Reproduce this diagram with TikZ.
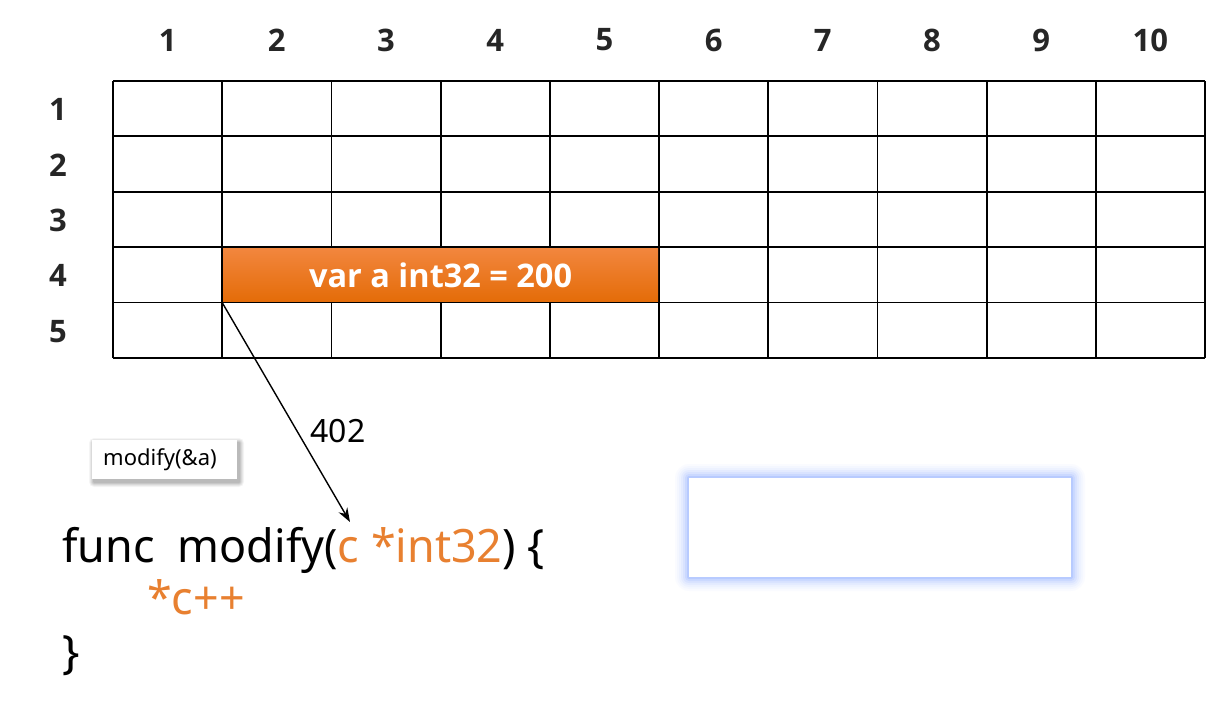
\documentclass[tikz,border=0pt]{standalone}
\usepackage{fontspec}
\usepackage{graphicx}
\setmainfont{Noto Sans}
\newfontfamily\boldos{Open Sans}
\usetikzlibrary{arrows.meta}
\definecolor{codeor}{RGB}{232,128,48}
\definecolor{boxtop}{RGB}{242,134,62}
\definecolor{boxbot}{RGB}{228,108,8}
\definecolor{glow}{RGB}{110,150,255}
\tikzset{
  gridline/.style={line width=1.8pt, black},
  lbl/.style={font=\fontsize{31}{36}\selectfont\boldos\bfseries, text=black!85, inner sep=0pt},
  codetxt/.style={font=\fontsize{46}{54}\selectfont, inner sep=0pt, anchor=base west},
  arrowline/.style={line width=1.4pt, -{Stealth[length=14pt,width=10pt]}},
}
\begin{document}
\begin{tikzpicture}[x=1pt,y=-1pt]
\useasboundingbox (0,0) rectangle (1218,708);
\fill[white] (0,0) rectangle (1218,708);
% column headers
\foreach \i in {1,...,10} {
  \node[lbl] (col\i) at ({113+109.2*(\i-0.5)},40) {\i};
}
% row labels
\foreach \j in {1,...,5} {
  \node[lbl] (row\j) at (58,{81+55.4*(\j-0.5)+1}) {\j};
}
% grid
\foreach \i in {0,...,10} {
  \draw[gridline] ({113+109.2*\i},81) -- ({113+109.2*\i},358);
}
\foreach \j in {0,...,5} {
  \draw[gridline] (113,{81+55.4*\j}) -- (1205,{81+55.4*\j});
}
% orange variable box
\node[shade, top color=boxtop, bottom color=boxbot, minimum width=435pt, minimum height=53.6pt, inner sep=0pt,
  font=\fontsize{32.5}{38}\selectfont\boldos\bfseries, text=white] (var) at ({222.2+218.4},{247.2+27.7}) {var a int32 = 200};
% arrow
\coordinate (vstart) at (222.2,302.6);
\coordinate (ctip) at (350,522);
\draw[arrowline] (vstart) -- (ctip);
\node[font=\fontsize{32}{38}\selectfont, inner sep=0pt] (lbl402) at (338,431) {402};
% modify(&a) box with soft shadow
\foreach \k/\o in {5/0.04,4/0.05,3/0.06,2/0.07,1/0.08} {
  \fill[black, opacity=\o, rounded corners=\k pt] ({92+2-\k},{440+3-\k}) rectangle ({237+2+\k},{479+3+\k});
}
\node[fill=white, minimum width=145pt, minimum height=39pt, inner sep=0pt] (call) at (164.5,459.5) {};
\node[font=\fontsize{22}{26}\selectfont, inner sep=0pt] (calltxt) at (160,459.5) {modify(\&a)};
% code
\node[codetxt] (line1) at (62,562) {\scalebox{0.975}[1]{func\ \ modify(\textcolor{codeor}{c *int32}) \{}};
\node[codetxt, text=codeor] (line2) at (147,614) {\scalebox{0.975}[1]{*c++}};
\node[codetxt] (line3) at (62,668) {\}};
% glow box
\foreach \k/\o in {14/0.03,12/0.04,10/0.05,8/0.07,6/0.09,4/0.13,2/0.2} {
  \fill[glow, opacity=\o, rounded corners=\k pt] ({689-\k},{478-\k}) rectangle ({1071+\k},{577+\k});
}
\node[fill=white, inner sep=0pt, minimum width=382pt, minimum height=99pt] (blank) at (880,527.5) {};
\end{tikzpicture}
\end{document}
